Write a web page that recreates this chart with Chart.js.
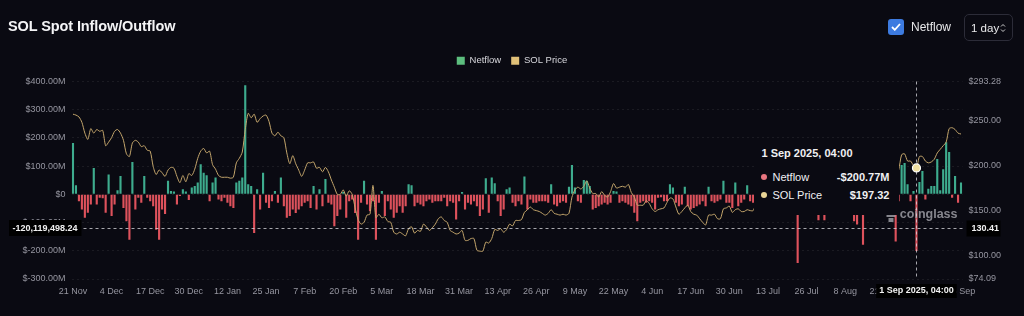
<!DOCTYPE html>
<html>
<head>
<meta charset="utf-8">
<script src="https://cdn.jsdelivr.net/npm/chart.js@4.4.1/dist/chart.umd.min.js"></script>
<style>
  html, body { margin:0; padding:0; background:#0a0a12; }
  #wrap { position:relative; width:1024px; height:316px; overflow:hidden; font-family:"Liberation Sans", Arial, sans-serif; background:#0a0a12; }
  #chart { position:absolute; left:0; top:0; }
  #title { position:absolute; left:8px; top:18px; font-size:14.5px; font-weight:700; color:#f4f4f6; letter-spacing:-0.1px; }
  #ctrl { position:absolute; left:888px; top:19px; display:flex; align-items:center; }
  .cb { width:16px; height:16px; border-radius:3px; background:#3d7be0; display:flex; align-items:center; justify-content:center; }
  #cbLabel { margin-left:7px; color:#e8e8ea; font-size:12px; }
  #sel { position:absolute; left:964px; top:14px; width:49px; height:27px; box-sizing:border-box; border:1px solid #2c2c38; border-radius:5px; color:#e8e8ea; font-size:11.5px; display:flex; align-items:center; padding-left:6px; }
  #sel svg { position:absolute; right:6px; top:8px; }
  #tip { position:absolute; width:145px; height:77px; box-sizing:border-box; padding:9px 10px 0 7px; background:#0a0a12; color:#f0f0f2; font-size:11px; }
  #tip .tt { font-weight:700; line-height:13px; margin-bottom:8px; }
  #tip .row { display:flex; align-items:center; height:18px; }
  #tip .dot { width:6px; height:6px; border-radius:50%; margin-right:5px; }
  #tip .name { flex:1; }
  #tip .val { font-weight:700; }
</style>
</head>
<body>
<div id="wrap">
  <canvas id="chart" width="1024" height="316"></canvas>
  <div id="title">SOL Spot Inflow/Outflow</div>
  <div id="ctrl">
    <div class="cb"><svg width="10" height="8" viewBox="0 0 10 8"><path d="M1 4l2.8 2.8L9 1" stroke="#fff" stroke-width="1.8" fill="none"/></svg></div>
    <span id="cbLabel">Netflow</span>
  </div>
  <div id="sel">1 day<svg width="6" height="10" viewBox="0 0 6 10"><path d="M1 3.5L3 1.5L5 3.5M1 6.5L3 8.5L5 6.5" stroke="#ccc" stroke-width="1" fill="none"/></svg></div>
  <div id="tip"></div>
</div>
<script>
// ---- Data ----
const startDay = { year: 2024, month: 10, day: 21 }; // 21 Nov 2024, daily
const monthNames = ['Jan','Feb','Mar','Apr','May','Jun','Jul','Aug','Sep','Oct','Nov','Dec'];

// Netflow (millions USD), by month
const netNov = [182, 32, -24, -54, -83, -65, -36, 93, -36, -12];
const netDec = [-14, -65, 70, -77, -36, 15, 65, -48, -95, -161, 115, -54, -12, -30, 65, -12, -24, -42, -125, -161, -54, -70, 48, 12, 10, -36, -6, 18, 10, -20, 24];
const netJan = [30, 42, 107, 77, 68, -24, 42, 60, -18, -24, -12, -30, -42, -48, 42, 48, 60, 387, 36, 30, -137, 18, -54, 77, -30, -48, -24, 12, -30, 60, -42];
const netFeb = [-83, -77, -54, -66, -54, -42, -30, -24, -48, 30, -54, 18, -42, 54, -30, -36, -113, -77, -54, 8, -83, -24, -18, -66, -161, -30, 48, -36];
const netMar = [-60, -24, -161, -30, 12, -77, -24, -54, -83, -65, -42, -65, -42, 36, 32, -42, -30, -36, -42, -24, -18, -30, -24, -24, -24, -12, -42, -24, -30, -89, -24];
const netApr = [8, -54, -30, -36, -24, -42, -77, -54, 57, -65, 60, 39, -24, -77, -54, 18, 24, -30, -42, -24, -36, 63, -54, -18, -30, -30, -24, -24, -24, -30];
const netMay = [36, -36, -42, -30, -24, -30, 27, 104, 24, -24, -30, 51, 48, 30, -54, -48, -42, -36, -30, -36, -30, 12, 10, -30, -24, -30, -36, -42, -65, -95, -30];
const netJun = [-24, -30, -24, -30, -54, -12, -10, -24, -24, 36, 24, -30, -42, -36, 27, -42, -54, -48, -42, -36, -24, -42, 27, -24, -30, -24, -18, 48, -30, -30];
const netJul = [-48, 42, -42, -30, -18, 32, -24, -30, -20, 15, -30, -24, 20, -36, -18, 25, -30, -20, -24, 18, -30, -42, -243, -60, -24, 20, -30, -18, -24, -92, -30];
const netAug = [-92, 15, -36, -24, 22, -30, -20, -18, 25, -30, -95, -107, -24, -179, -30, 20, -24, -72, -30, 18, -24, -36, 22, -30, -167, -24, 104, 111, 36, -24, 12];
const netSep = [-200.77, 44, 83, -18, 20, 30, 30, 125, 15, 89, 185, 150, -12, 65, -30, 42];

// SOL price (USD), by month
const priceNov = [257, 256, 254, 248, 236, 229, 241, 236, 240, 238];
const priceDec = [239, 222, 226, 231, 238, 240, 236, 228, 213, 210, 225, 228, 226, 221, 222, 217, 216, 199, 190, 195, 192, 188, 195, 198, 197, 188, 181, 189, 182, 191, 189];
const priceJan = [196, 208, 216, 219, 214, 216, 201, 196, 189, 187, 187, 187, 186, 187, 203, 208, 215, 240, 258, 253, 257, 248, 252, 255, 256, 249, 236, 233, 237, 233, 231];
const priceFeb = [214, 202, 211, 202, 195, 188, 195, 203, 203, 204, 197, 198, 193, 198, 193, 184, 176, 168, 168, 173, 166, 172, 168, 153, 140, 135, 137, 145];
const priceMar = [146, 178, 142, 146, 142, 143, 138, 137, 126, 124, 126, 124, 122, 130, 132, 125, 128, 127, 135, 132, 128, 131, 135, 141, 143, 139, 137, 128, 126, 124, 125];
const priceApr = [128, 117, 117, 119, 119, 106, 105, 105, 115, 114, 119, 129, 128, 130, 126, 129, 135, 133, 139, 139, 140, 148, 151, 154, 151, 150, 149, 147, 145, 147];
const priceMay = [151, 147, 146, 145, 146, 145, 147, 165, 173, 176, 174, 177, 183, 175, 169, 169, 165, 171, 167, 165, 171, 180, 175, 176, 177, 176, 179, 170, 165, 156, 156];
const priceJun = [156, 161, 158, 152, 149, 151, 152, 153, 159, 164, 163, 154, 146, 149, 153, 156, 149, 146, 145, 141, 137, 134, 145, 145, 146, 141, 141, 152, 153, 155];
const priceJul = [148, 151, 152, 149, 149, 151, 150, 150, 158, 165, 164, 161, 163, 160, 163, 169, 176, 177, 177, 182, 194, 203, 189, 187, 185, 187, 188, 178, 178, 176, 168];
const priceAug = [163, 162, 167, 171, 163, 165, 173, 176, 181, 179, 176, 190, 200, 190, 185, 186, 191, 181, 176, 185, 184, 204, 206, 205, 189, 195, 212, 213, 205, 205, 200];
const priceSep = [197.32, 210, 210, 205, 203, 204, 207, 214, 218, 222, 226, 241, 242, 240, 236, 235];

// Axis ticks
const leftTicksM = [-300, -200, -100, 0, 100, 200, 300, 400];
const rightTicks = [74.09, 100, 150, 200, 250, 293.28];
const xLabelEvery = 13;

// Hover / crosshair state shown in the picture
const hoverIndex = 284;
const hoverTitle = '1 Sep 2025, 04:00';
const cursorNetflow = -120119498.24;
const cursorPrice = 130.41;

// ---- Build ----
const netflowM = [].concat(netNov, netDec, netJan, netFeb, netMar, netApr, netMay, netJun, netJul, netAug, netSep);
const price = [].concat(priceNov, priceDec, priceJan, priceFeb, priceMar, priceApr, priceMay, priceJun, priceJul, priceAug, priceSep);
const categories = netflowM.map((_, i) => {
  const d = new Date(Date.UTC(startDay.year, startDay.month, startDay.day + i));
  return d.getUTCDate() + ' ' + monthNames[d.getUTCMonth()];
});

const upColor = 'rgb(62,172,142)';
const downColor = 'rgb(222,82,92)';
const lineColor = 'rgb(196,166,108)';
const tickColor = 'rgb(150,150,160)';
const fontFam = '"Liberation Sans", Arial, sans-serif';
Chart.defaults.font.family = fontFam;

const fmtLeft = v => v === 0 ? '$0' : '$' + (v / 1e6).toFixed(2) + 'M';
const fmtNet = v => (v < 0 ? '-$' : '$') + Math.abs(v).toFixed(2) + 'M';

const legendSpacer = {
  id: 'legendSpacer',
  beforeInit(chart) {
    const fit = chart.legend.fit;
    chart.legend.fit = function () { fit.bind(chart.legend)(); this.height += 6; };
  }
};

const overlay = {
  id: 'overlay',
  afterDatasetsDraw(chart) {
    const { ctx, chartArea: a, scales } = chart;
    // watermark
    ctx.save();
    ctx.fillStyle = 'rgba(165,165,172,0.8)';
    ctx.font = 'bold 12.5px ' + fontFam;
    ctx.textAlign = 'right';
    ctx.textBaseline = 'middle';
    const wy = a.bottom - 64;
    ctx.fillText('coinglass', a.right - 5, wy);
    const ix = a.right - 78;
    ctx.fillRect(ix, wy - 5, 13, 3);
    ctx.fillRect(ix + 2, wy - 1, 9, 3);
    ctx.fillRect(ix + 4, wy + 3, 5, 4);
    ctx.restore();

    // crosshair lines
    const cx = Math.round(scales.x.getPixelForValue(hoverIndex)) + 0.5;
    const cy = Math.round(scales.y.getPixelForValue(cursorNetflow)) + 0.5;
    ctx.save();
    ctx.strokeStyle = 'rgba(220,220,225,0.75)';
    ctx.lineWidth = 1;
    ctx.setLineDash([3, 3]);
    ctx.beginPath(); ctx.moveTo(cx, a.top); ctx.lineTo(cx, a.bottom); ctx.stroke();
    ctx.beginPath(); ctx.moveTo(a.left, cy); ctx.lineTo(a.right, cy); ctx.stroke();
    ctx.restore();

    // hover point on price line
    const pt = chart.getDatasetMeta(1).data[hoverIndex];
    ctx.save();
    ctx.beginPath();
    ctx.arc(pt.x, pt.y, 4, 0, Math.PI * 2);
    ctx.fillStyle = 'rgb(240,224,160)';
    ctx.fill();
    ctx.lineWidth = 1.2;
    ctx.strokeStyle = '#ffffff';
    ctx.stroke();
    ctx.restore();
  },
  afterDraw(chart) {
    const { ctx, chartArea: a, scales } = chart;
    const cx = scales.x.getPixelForValue(hoverIndex);
    const cy = Math.round(scales.y.getPixelForValue(cursorNetflow)) + 0.5;
    ctx.save();
    ctx.font = 'bold 9px ' + fontFam;
    ctx.textBaseline = 'middle';
    // left label
    const lt = cursorNetflow.toLocaleString('en-US', { minimumFractionDigits: 2, maximumFractionDigits: 2 });
    ctx.fillStyle = '#000';
    ctx.fillRect(9, cy - 8.5, a.left - 9 + 10, 16);
    ctx.fillStyle = '#f2f2f2';
    ctx.textAlign = 'right';
    ctx.fillText(lt, a.left + 6, cy);
    // right label
    const rt = cursorPrice.toFixed(2);
    ctx.fillStyle = '#000';
    ctx.fillRect(a.right + 4, cy - 8, 34, 16);
    ctx.fillStyle = '#f2f2f2';
    ctx.textAlign = 'left';
    ctx.fillText(rt, a.right + 9, cy);
    // bottom label
    const bw = ctx.measureText(hoverTitle).width + 6;
    ctx.fillStyle = '#000';
    ctx.fillRect(cx - bw / 2, a.bottom + 5, bw, 14);
    ctx.fillStyle = '#f2f2f2';
    ctx.textAlign = 'center';
    ctx.fillText(hoverTitle, cx, a.bottom + 12);
    ctx.restore();
  }
};

const chart = new Chart(document.getElementById('chart'), {
  data: {
    labels: categories,
    datasets: [
      {
        type: 'bar', label: 'Netflow', yAxisID: 'y', order: 1,
        data: netflowM.map(v => v * 1e6),
        backgroundColor: netflowM.map(v => v >= 0 ? upColor : downColor),
        borderWidth: 0, categoryPercentage: 1, barPercentage: 0.72
      },
      {
        type: 'line', label: 'SOL Price', yAxisID: 'y1', order: 0,
        data: price, borderColor: lineColor, borderWidth: 1,
        pointRadius: 0, tension: 0.25, fill: false
      }
    ]
  },
  options: {
    responsive: false,
    animation: false,
    events: [],
    layout: { padding: { top: 46, left: 0, right: 0, bottom: 0 } },
    plugins: {
      tooltip: { enabled: false },
      legend: {
        position: 'top', align: 'center',
        labels: {
          boxWidth: 8, boxHeight: 8, padding: 10, color: 'rgb(215,215,220)',
          font: { size: 9.5, family: fontFam },
          generateLabels: () => [
            { text: 'Netflow', fillStyle: 'rgb(92,190,126)', strokeStyle: 'rgba(0,0,0,0)', lineWidth: 0, datasetIndex: 0, fontColor: 'rgb(215,215,220)' },
            { text: 'SOL Price', fillStyle: 'rgb(224,192,120)', strokeStyle: 'rgba(0,0,0,0)', lineWidth: 0, datasetIndex: 1, fontColor: 'rgb(215,215,220)' }
          ]
        }
      }
    },
    scales: {
      x: {
        type: 'category', offset: true,
        grid: { display: false, drawTicks: false }, border: { display: false },
        ticks: {
          autoSkip: false, maxRotation: 0, minRotation: 0, padding: 7,
          color: tickColor, font: { size: 9 },
          callback: (v, i) => i % xLabelEvery === 0 ? categories[i] : ''
        },
        afterFit: s => { s.height = 37; }
      },
      y: {
        position: 'left', min: leftTicksM[0] * 1e6, max: leftTicksM[leftTicksM.length - 1] * 1e6,
        afterBuildTicks: s => { s.ticks = leftTicksM.map(v => ({ value: v * 1e6 })); },
        ticks: { padding: 6, color: tickColor, font: { size: 9 }, callback: v => fmtLeft(v) },
        grid: { color: 'rgba(255,255,255,0.07)', drawTicks: false },
        border: { display: false, dash: [2, 3] },
        afterFit: s => { s.width = 71.5; }
      },
      y1: {
        position: 'right', min: rightTicks[0], max: rightTicks[rightTicks.length - 1],
        afterBuildTicks: s => { s.ticks = rightTicks.map(v => ({ value: v })); },
        ticks: { padding: 6, color: tickColor, font: { size: 9 }, callback: v => '$' + Number(v).toFixed(2) },
        grid: { display: false, drawTicks: false }, border: { display: false },
        afterFit: s => { s.width = 61.5; }
      }
    }
  },
  plugins: [legendSpacer, overlay]
});

// HTML tooltip anchored to the hovered price point
(function () {
  const pt = chart.getDatasetMeta(1).data[hoverIndex];
  const tip = document.getElementById('tip');
  tip.innerHTML =
    '<div class="tt">' + hoverTitle + '</div>' +
    '<div class="row"><span class="dot" style="background:rgb(232,118,128)"></span><span class="name">Netflow</span><span class="val">' + fmtNet(netflowM[hoverIndex]) + '</span></div>' +
    '<div class="row"><span class="dot" style="background:rgb(232,212,150)"></span><span class="name">SOL Price</span><span class="val">$' + price[hoverIndex].toFixed(2) + '</span></div>';
  tip.style.left = (pt.x - 162) + 'px';
  tip.style.top = (pt.y - 30) + 'px';
})();
</script>
</body>
</html>
